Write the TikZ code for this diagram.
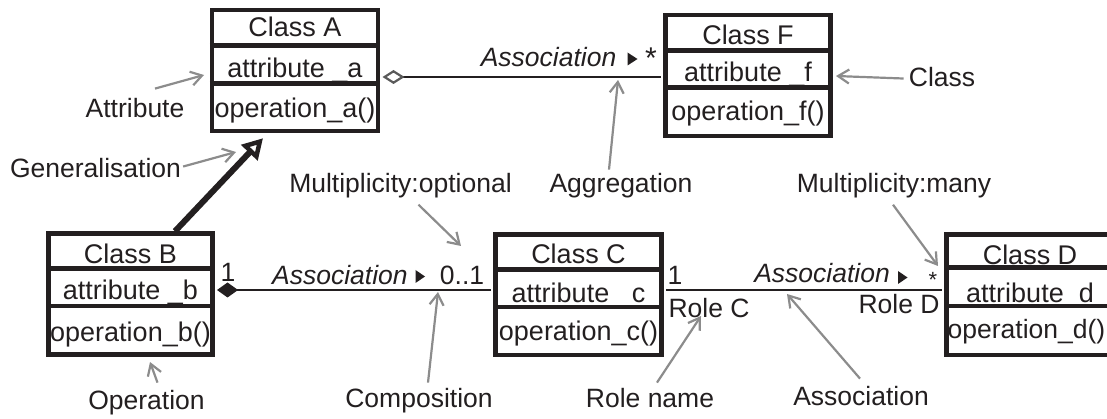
\documentclass[tikz,border=0pt]{standalone}
\usepackage{fontspec}
\setmainfont{Liberation Sans}
\usetikzlibrary{arrows.meta,calc}

\definecolor{ink}{HTML}{231F20}
\definecolor{notegray}{HTML}{8C8C8C}
\definecolor{diamgray}{HTML}{5A5A5A}

\tikzset{
  txt/.style={font=\fontsize{26.5pt}{30pt}\selectfont, text=ink, inner sep=0pt, anchor=base},
  ctxt/.style={txt, font=\fontsize{27pt}{31pt}\selectfont},
  itxt/.style={txt, font=\fontsize{26.5pt}{30pt}\selectfont\itshape},
  classbox/.style={draw=ink, line width=4.5pt, rectangle, inner sep=0pt, minimum width=166pt, minimum height=121pt},
  compsep/.style={draw=ink, line width=4.5pt},
  assoc/.style={draw=ink, line width=2pt},
  notearrow/.style={draw=notegray, line width=2.2pt, -{Straight Barb[length=11pt, width=14pt]}},
  general/.style={draw=ink, line width=6pt, -{Triangle[open, length=20pt, width=22pt, line width=4.5pt]}},
  aggr/.style={assoc, {Diamond[open, length=22pt, width=14pt, line width=2.2pt, color=diamgray]}-},
  compo/.style={assoc, {Diamond[length=21pt, width=15pt]}-},
  dirmark/.style={fill=ink},
}

\begin{document}
\begin{tikzpicture}[x=1pt, y=-1pt]
  \useasboundingbox (0,0) rectangle (1107,419);
  \clip (0,0) rectangle (1107,419);

  % ---- class boxes ----
  \node[classbox] (A) at (295,70.5) {};
  \draw[compsep] ($(A.north west)+(0,38)$) -- ($(A.north east)+(0,38)$);
  \draw[compsep] ($(A.north west)+(0,76)$) -- ($(A.north east)+(0,76)$);
  \node[ctxt] (A-name) at (295,37) {Class A};
  \node[ctxt] (A-attr) at (295,78) {attribute \_a};
  \node[ctxt] (A-op)   at (295,118) {operation\_a()};

  \node[classbox, minimum width=165pt] (F) at (748,75.5) {};
  \draw[compsep] ($(F.north west)+(0,38)$) -- ($(F.north east)+(0,38)$);
  \draw[compsep] ($(F.north west)+(0,75)$) -- ($(F.north east)+(0,75)$);
  \node[ctxt] (F-name) at (748,45) {Class F};
  \node[ctxt] (F-attr) at (748,82) {attribute \_f};
  \node[ctxt] (F-op)   at (748,121) {operation\_f()};

  \node[classbox, minimum width=164pt] (B) at (130.5,294) {};
  \draw[compsep] ($(B.north west)+(0,37.5)$) -- ($(B.north east)+(0,37.5)$);
  \draw[compsep] ($(B.north west)+(0,74.5)$) -- ($(B.north east)+(0,74.5)$);
  \node[ctxt] (B-name) at (130.5,264) {Class B};
  \node[ctxt] (B-attr) at (130.5,300) {attribute \_b};
  \node[ctxt] (B-op)   at (130.5,341) {operation\_b()};

  \node[classbox, minimum height=120.5pt] (C) at (578.5,294.75) {};
  \draw[compsep] ($(C.north west)+(0,37.5)$) -- ($(C.north east)+(0,37.5)$);
  \draw[compsep] ($(C.north west)+(0,74.5)$) -- ($(C.north east)+(0,74.5)$);
  \node[ctxt] (C-name) at (578.5,264) {Class C};
  \node[ctxt] (C-attr) at (578.5,302) {attribute \_c};
  \node[ctxt] (C-op)   at (578.5,340) {operation\_c()};

  % Class D runs past the right edge and is clipped there
  \node[classbox, minimum height=120.5pt] (D) at (1029.5,294.75) {};
  \draw[compsep] ($(D.north west)+(0,35.5)$) -- ($(D.north east)+(0,35.5)$);
  \draw[compsep] ($(D.north west)+(0,73.5)$) -- ($(D.north east)+(0,73.5)$);
  \node[ctxt] (D-name) at (1030,265) {Class D};
  \node[ctxt] (D-attr) at (1030,302) {attribute\_d};
  \node[txt]  (D-op)   at (1026.5,338) {operation\_d()};

  % ---- relations ----
  \draw[general] ($(B.north)+(44.5,0)$) -- ($(A.south)+(-32,5)$);
  \draw[aggr]  ($(A.east)+(2.25,6.5)$) -- ($(F.west)+(-2.25,1.5)$);
  \draw[compo] ($(B.east)+(2.25,-4)$) -- ($(C.west)+(-2.25,-4.75)$);
  \draw[assoc] ($(C.east)+(2.25,-4.75)$) -- ($(D.west)+(-2.25,-4.75)$);

  % association names, reading-direction marks, multiplicities and roles
  \node[itxt] (assoc-AF) at (548.5,67) {Association};
  \fill[dirmark] (627.5,52.5) -- (637.5,59) -- (627.5,65.5) -- cycle;
  \node[txt, anchor=center, font=\fontsize{30pt}{34pt}\selectfont] (mult-F) at (651,58) {*};

  \node[txt] (mult-B) at (228,282) {1};
  \node[itxt, anchor=base west] (assoc-BC) at (272,284) {Association};
  \fill[dirmark] (415.5,270) -- (425,276.5) -- (415.5,283) -- cycle;
  \node[txt] (mult-C1) at (462,285) {0..1};

  \node[txt] (mult-C2) at (675,285) {1};
  \node[txt] (role-C) at (709,317) {Role C};
  \node[itxt, anchor=base east] (assoc-CD) at (890,283) {Association};
  \fill[dirmark] (898,271) -- (907.5,277.5) -- (898,284) -- cycle;
  \node[txt, anchor=center, font=\fontsize{22pt}{26pt}\selectfont] (mult-D) at (933,280) {*};
  \node[txt] (role-D) at (899,313) {Role D};

  % ---- annotation labels ----
  \node[txt] (lab-attribute) at (135,118) {Attribute};
  \node[txt] (lab-general)   at (95.5,178) {Generalisation};
  \node[txt] (lab-multopt)   at (400.5,193) {Multiplicity:optional};
  \node[txt] (lab-aggr)      at (621,193) {Aggregation};
  \node[txt] (lab-multmany)  at (894,193) {Multiplicity:many};
  \node[txt] (lab-class)     at (942,87) {Class};
  \node[txt] (lab-oper)      at (146.5,409) {Operation};
  \node[txt] (lab-comp)      at (419,407) {Composition};
  \node[txt] (lab-role)      at (650,407) {Role name};
  \node[txt] (lab-assoc)     at (861,405) {Association};

  % ---- annotation pointers ----
  \coordinate (p-attribute) at (204,75);
  \coordinate (p-general)   at (236,152);
  \coordinate (p-aggr)      at (618,80);
  \coordinate (p-class)     at (836,76);
  \coordinate (p-multopt)   at (461,246);
  \coordinate (p-comp)      at (438,292);
  \coordinate (p-role)      at (701,316);
  \coordinate (p-assoc)     at (787,294);
  \coordinate (p-multmany)  at (938,266);
  \coordinate (p-oper)      at (150,362);

  \draw[notearrow] ($(lab-attribute.north)+(20,-10)$) -- (p-attribute);
  \draw[notearrow] ($(lab-general.east)+(2,-2)$) -- (p-general);
  \draw[notearrow] ($(lab-aggr.north)+(-12,-4)$) -- (p-aggr);
  \draw[notearrow] ($(lab-class.west)+(-5,1)$) -- (p-class);
  \draw[notearrow] ($(lab-multopt.south)+(18,6)$) -- (p-multopt);
  \draw[notearrow] ($(lab-comp.north)+(9,-5)$) -- (p-comp);
  \draw[notearrow] ($(lab-role.north)+(7,-5)$) -- (p-role);
  \draw[notearrow] ($(lab-assoc.north)+(-1,-7)$) -- (p-assoc);
  \draw[notearrow] ($(lab-multmany.south)+(-1,6)$) -- (p-multmany);
  \draw[notearrow] ($(lab-oper.north)+(11,-7)$) -- (p-oper);
\end{tikzpicture}
\end{document}
